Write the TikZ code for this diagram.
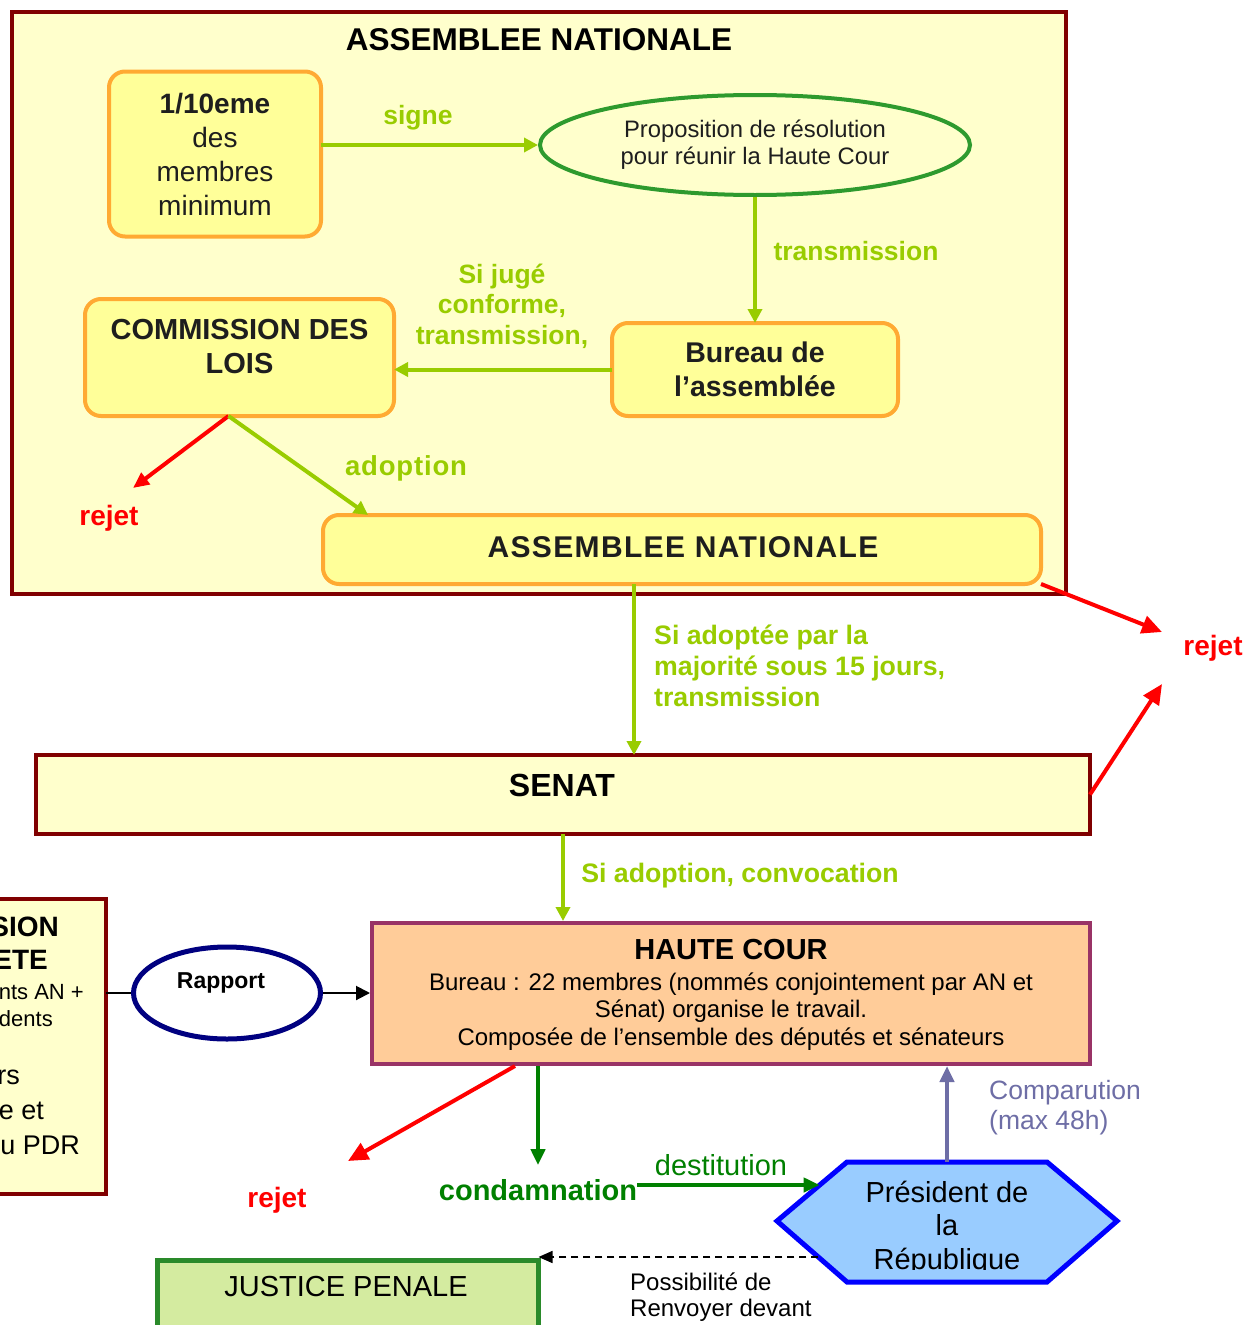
\documentclass[tikz,border=0pt]{standalone}
\usepackage{fontspec}
\setmainfont{Liberation Sans}
\usetikzlibrary{arrows.meta,calc,shapes.geometric}

\definecolor{frameR}{HTML}{800000}
\definecolor{paleY}{HTML}{FFFFCC}
\definecolor{boxY}{HTML}{FFFF99}
\definecolor{orangeB}{HTML}{FFAA33}
\definecolor{ygreen}{HTML}{99CC00}
\definecolor{ellG}{HTML}{2E9A2E}
\definecolor{dgreen}{HTML}{008000}
\definecolor{hcB}{HTML}{993366}
\definecolor{hcF}{HTML}{FFCC99}
\definecolor{hexB}{HTML}{0000FF}
\definecolor{hexF}{HTML}{99CCFF}
\definecolor{compC}{HTML}{6E6EA6}
\definecolor{navyB}{HTML}{000080}
\definecolor{jpF}{HTML}{D4EBA0}
\definecolor{jpB}{HTML}{2A8A2A}
\definecolor{txt}{HTML}{1E1E1E}

\newcommand\fsz[2]{\fontsize{#1}{#2}\selectfont}

\tikzset{
  bigframe/.style={draw=frameR, line width=4pt, fill=paleY, inner sep=0pt, outer sep=0pt},
  ybox/.style={draw=orangeB, line width=4pt, fill=boxY, rounded corners=16pt, inner sep=0pt, outer sep=0pt, text=txt, align=center},
  glabel/.style={text=ygreen, font=\fsz{26.5}{30.5}\bfseries, align=center, inner sep=0pt},
  rlabel/.style={text=red, font=\fsz{28}{32}\bfseries, inner sep=0pt},
  yarrow/.style={draw=ygreen, line width=4pt, -{Triangle[length=14pt,width=14pt]}},
  rarrow/.style={draw=red, line width=4pt, -{Triangle[length=20pt,width=18pt]}},
  garrow/.style={draw=dgreen, line width=4pt, -{Triangle[length=16pt,width=14pt]}},
  leftline/.style={inner sep=0pt, anchor=east, text=black},
}

\begin{document}
\begin{tikzpicture}[x=1pt,y=-1pt]
\useasboundingbox (0,0) rectangle (1254,1325);
\clip (0,0) rectangle (1254,1325);
\fill[white] (0,0) rectangle (1254,1325);

% ---------- Assemblee nationale frame ----------
\node[bigframe, minimum width=1054pt, minimum height=582pt] (an) at (539,303) {};
\node[inner sep=0pt, font=\fsz{31.5}{36}\bfseries] (antitle) at (539,40) {ASSEMBLEE NATIONALE};

\node[ybox, minimum width=212pt, minimum height=165pt, font=\fsz{28}{34}] (tenth) at (215,154)
  {\textbf{1/10eme}\\des\\membres\\minimum};

\node[ellipse, draw=ellG, line width=4pt, minimum width=430pt, minimum height=100pt, inner sep=2pt,
      text=txt, align=center, font=\fsz{23.8}{27}] (prop) at (755,145)
  {Proposition de résolution\\pour réunir la Haute Cour};

\node[ybox, minimum width=286pt, minimum height=93pt, font=\fsz{28.5}{34}\bfseries] (bureau) at (755,369.5)
  {Bureau de\\l’assemblée};

\node[ybox, minimum width=309pt, minimum height=117pt] (comm) at (239.5,357.5) {};
\node[inner sep=0pt, text=txt, align=center, font=\fsz{29}{34}\bfseries] (commtext) at (239.5,347)
  {COMMISSION DES\\LOIS};

\node[ybox, minimum width=718pt, minimum height=69pt] (anbox) at (682,549.5) {};
\node[inner sep=0pt, text=txt, font=\fsz{30}{36}\bfseries\addfontfeature{LetterSpace=4.5}] (anboxtext) at (683,547) {ASSEMBLEE NATIONALE};

% labels inside AN
\node[glabel] (lsigne) at (418,118) {signe};
\node[glabel] (ltrans) at (856,251) {transmission};
\node[glabel] (lconf) at (502,306) {Si jugé\\conforme,\\transmission,};
\node[glabel, font=\fsz{27.5}{30}\bfseries\addfontfeature{LetterSpace=3}] (ladopt) at (406,468) {adoption};
\node[rlabel] (rej1) at (109,518) {rejet};

\draw[yarrow] (tenth.east |- prop.west) -- (prop.west);
\draw[yarrow] (prop.south) -- (bureau.north);
\draw[yarrow] (bureau.west) -- (comm.east |- bureau.west);
\coordinate (commout) at ([xshift=-11pt]comm.south);
\coordinate (rej1tip) at (133,488);
\draw[rarrow, -{Triangle[length=16pt,width=14pt]}] (commout) -- (rej1tip);
\draw[yarrow] (commout) -- ([xshift=45pt]anbox.north west);

% ---------- SENAT ----------
\node[bigframe, minimum width=1054pt, minimum height=79pt] (senat) at (563,794.5) {};
\node[inner sep=0pt, font=\fsz{32}{36}\bfseries] (senattext) at (562,785) {SENAT};

\draw[yarrow] ([xshift=-48pt]anbox.south) -- ([xshift=-48pt]anbox.south |- senat.north);
\node[glabel, align=left, anchor=west, font=\fsz{26.7}{31}\bfseries] (ladoptee) at (654,666)
  {Si adoptée par la\\majorité sous 15 jours,\\transmission};

\node[rlabel] (rej2) at (1213,648) {rejet};
\coordinate (rej2a) at (1162,632);
\coordinate (rej2b) at (1162,684);
\draw[rarrow] (anbox.south east) -- (rej2a);
\draw[rarrow] (senat.east) -- (rej2b);

% ---------- HAUTE COUR ----------
\node[draw=hcB, line width=4pt, fill=hcF, minimum width=718pt, minimum height=141pt, inner sep=0pt] (hc) at (731,993.5) {};
\node[inner sep=0pt, font=\fsz{29}{34}\bfseries] (hctitle) at (731,950) {HAUTE COUR};
\node[inner sep=0pt, align=center, font=\fsz{24}{27.5}] (hcbody) at (731,1011.5)
  {Bureau : 22 membres (nommés conjointement par AN et\\Sénat) organise le travail.\\Composée de l’ensemble des députés et sénateurs};

\draw[yarrow] (senat.south) -- (senat.south |- hc.north);
\node[glabel, font=\fsz{26.7}{30}\bfseries] (lconv) at (740,876) {Si adoption, convocation};

% ---------- left clipped box ----------
\node[bigframe, minimum width=116pt, minimum height=295pt] (lbox) at (48,1046.5) {};
\node[leftline, font=\fsz{28}{32}\bfseries] (l1) at (59,927) {SION};
\node[leftline, font=\fsz{28}{32}\bfseries] (l2) at (48,960) {ETE};
\node[leftline, font=\fsz{22}{26}] (l3) at (84,992) {nts AN +};
\node[leftline, font=\fsz{22}{26}] (l4) at (53,1019) {dents};
\node[leftline, font=\fsz{27}{32}] (l5) at (20,1077) {rs};
\node[leftline, font=\fsz{27}{32}] (l6) at (44,1111) {e et};
\node[leftline, font=\fsz{27}{32}] (l7) at (80,1145) {u PDR};

% Rapport
\node[ellipse, draw=navyB, line width=5pt, fill=white, minimum width=187pt, minimum height=92pt, inner sep=0pt] (rap) at (227,993) {};
\node[inner sep=0pt, font=\fsz{23}{28}\bfseries] (raptext) at (221,983) {Rapport};
\draw[line width=2pt] (lbox.east |- rap.west) -- (rap.west);
\draw[line width=2pt, -{Triangle[length=14pt,width=14pt]}] (rap.east) -- (hc.west |- rap.east);

% ---------- bottom ----------
\node[rlabel] (rej3) at (277,1200) {rejet};
\node[inner sep=0pt, text=dgreen, font=\fsz{29}{34}\bfseries] (cond) at (538,1190) {condamnation};
\coordinate (rej3tip) at (348,1161);
\draw[rarrow] ([xshift=-216pt]hc.south) -- (rej3tip);
\draw[garrow] (cond.north |- hc.south) -- ([yshift=14pt]cond.north);

% President hexagon
\coordinate (hL) at (777,1221);
\coordinate (hTL) at (847,1162);
\coordinate (hTR) at (1047,1162);
\coordinate (hR) at (1117,1221);
\coordinate (hBR) at (1047,1282);
\coordinate (hBL) at (847,1282);
\draw[draw=hexB, line width=5pt, fill=hexF, line join=miter] (hL) -- (hTL) -- (hTR) -- (hR) -- (hBR) -- (hBL) -- cycle;
\node[inner sep=0pt, minimum width=340pt, minimum height=120pt] (pdr) at (947,1222) {};
\begin{scope}
  \clip (770,1150) rectangle (1125,1269);
  \node[inner sep=0pt, align=center, font=\fsz{29}{33.5}] (pdrtext) at (947,1228)
    {Président de\\la\\République};
\end{scope}

\coordinate (destend) at ($(hL)!0.61!(hTL)$);
\draw[garrow] (cond.east |- destend) -- (destend);
\node[inner sep=0pt, text=dgreen, font=\fsz{29}{32}] (ldest) at (721,1165) {destitution};

\draw[draw=compC, line width=4pt, -{Triangle[length=16pt,width=14pt]}] (pdr.north) -- (pdr.north |- hc.south);
\node[inner sep=0pt, anchor=west, align=left, text=compC, font=\fsz{26.5}{30}] (lcomp) at (989,1108) {Comparution\\(max 48h)};

% Justice penale
\node[draw=jpB, line width=5pt, fill=jpF, minimum width=381pt, minimum height=140pt, inner sep=0pt, outer sep=0pt, anchor=north west] (jp) at (157.5,1260.5) {};
\node[inner sep=0pt, font=\fsz{29}{33}] (jptext) at (346,1287) {JUSTICE PENALE};

\coordinate (dashstart) at ($(hL)!0.59!(hBL)$);
\draw[dashed, dash pattern=on 7pt off 5pt, line width=1.5pt, -{Triangle[length=14pt,width=12pt]}] (dashstart) -- (jp.north east |- dashstart);
\node[inner sep=0pt, anchor=west, align=left, font=\fsz{24}{26}] (lposs) at (630,1297) {Possibilité de\\Renvoyer devant};

\end{tikzpicture}
\end{document}
